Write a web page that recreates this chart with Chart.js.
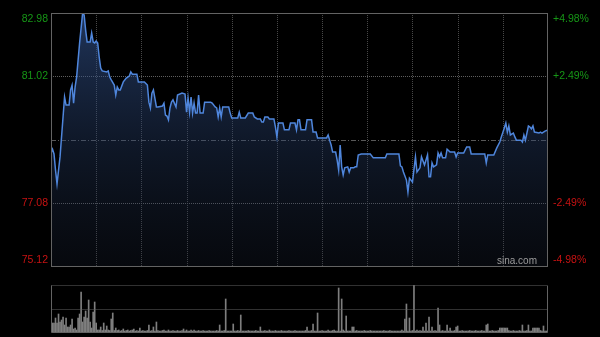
<!DOCTYPE html>
<html>
<head>
<meta charset="utf-8">
<script src="https://cdn.jsdelivr.net/npm/chart.js@4.4.1/dist/chart.umd.min.js"></script>
<style>
  html, body { margin: 0; padding: 0; background: #000; }
  #wrap { position: relative; width: 600px; height: 337px; overflow: hidden; background: #000; }
  canvas { position: absolute; left: 0; }
</style>
</head>
<body>
<div id="wrap">
  <canvas id="priceChart" width="600" height="275" style="top:0"></canvas>
  <canvas id="volChart" width="600" height="62" style="top:275px"></canvas>
</div>
<script>
// минуты торгового дня (0..330) и цены в точках излома линии
const priceMinutes = [
  0, 1, 2, 3, 4, 6, 8, 9, 10, 12, 13, 14, 15, 16, 17, 19, 21, 22, 23, 24,
  26, 27, 28, 29, 30, 31, 32, 33, 34, 37, 38, 39, 40, 42, 43, 44, 45, 46, 48, 50,
  52, 53, 54, 57, 58, 62, 64, 65, 66, 67, 68, 70, 71, 74, 75, 76, 77, 78, 79, 80,
  81, 83, 84, 87, 89, 90, 91, 92, 93, 94, 95, 96, 97, 98, 99, 101, 102, 106, 107, 109,
  110, 111, 112, 113, 114, 118, 119, 120, 124, 125, 126, 129, 131, 134, 135, 137, 139, 140, 141, 142,
  144, 145, 148, 149, 150, 151, 154, 155, 158, 159, 162, 163, 164, 165, 166, 169, 170, 173, 174, 176,
  177, 183, 184, 185, 186, 187, 189, 190, 191, 192, 193, 194, 195, 197, 198, 199, 201, 202, 203, 204,
  206, 212, 214, 222, 223, 231, 232, 233, 234, 236, 237, 238, 240, 242, 243, 245, 246, 248, 250, 251,
  252, 253, 254, 256, 257, 258, 259, 260, 262, 263, 265, 268, 269, 270, 274, 276, 278, 279, 281, 288,
  289, 290, 294, 296, 298, 299, 301, 302, 303, 304, 305, 307, 308, 309, 312, 313, 314, 315, 317, 318,
  319, 320, 321, 324, 325, 326, 328, 330
];
const prices = [
  78.63, 78.75, 78.60, 78.10, 77.67, 78.51, 79.75, 80.37, 80.12, 80.12, 80.59, 80.74, 80.18, 80.68, 80.99, 82.05, 82.98, 82.92, 82.45, 82.08,
  82.08, 82.36, 82.08, 82.05, 82.11, 82.05, 81.61, 81.27, 81.18, 81.15, 81.18, 80.99, 80.90, 80.74, 80.43, 80.68, 80.59, 80.59, 80.84, 80.96,
  81.02, 81.15, 81.08, 81.08, 80.84, 80.84, 80.74, 80.21, 80.03, 80.49, 80.59, 80.06, 80.06, 80.09, 80.18, 79.81, 79.78, 79.66, 80.03, 80.21,
  80.28, 80.06, 80.43, 80.49, 80.46, 79.90, 80.34, 79.90, 80.37, 79.87, 80.18, 79.87, 79.87, 80.43, 79.87, 79.87, 80.21, 80.21, 80.18, 80.06,
  80.03, 79.75, 80.03, 79.75, 80.06, 80.06, 79.87, 79.72, 79.72, 79.90, 79.72, 79.72, 79.87, 79.87, 79.75, 79.69, 79.69, 79.59, 79.59, 79.75,
  79.75, 79.69, 79.69, 79.44, 79.13, 79.56, 79.56, 79.35, 79.35, 79.56, 79.56, 79.35, 79.66, 79.66, 79.35, 79.35, 79.66, 79.66, 79.28, 79.28,
  79.10, 79.10, 79.19, 79.03, 78.88, 78.66, 78.66, 78.41, 78.10, 78.88, 78.20, 77.95, 78.17, 78.20, 78.04, 78.17, 78.17, 78.20, 78.20, 78.57,
  78.60, 78.60, 78.48, 78.48, 78.60, 78.60, 78.23, 78.20, 78.04, 77.79, 77.42, 77.85, 77.73, 78.51, 78.04, 78.17, 78.51, 78.26, 78.57, 77.89,
  77.89, 78.32, 78.20, 78.26, 78.63, 78.51, 78.63, 78.48, 78.48, 78.75, 78.66, 78.66, 78.51, 78.63, 78.63, 78.82, 78.82, 78.60, 78.60, 78.60,
  78.32, 78.57, 78.57, 78.79, 78.97, 79.13, 79.41, 79.56, 79.28, 79.47, 79.19, 79.25, 79.13, 79.03, 79.03, 78.97, 79.19, 79.03, 79.47, 79.44,
  79.38, 79.47, 79.28, 79.25, 79.28, 79.25, 79.31, 79.35
];

// объём по минутам (0..330)
const volumes = [
  260, 90, 90, 140, 90, 180, 100, 120, 150, 70,
  140, 50, 50, 70, 130, 30, 40, 20, 140, 180,
  400, 100, 150, 210, 140, 320, 100, 40, 200, 300,
  90, 20, 20, 50, 15, 90, 20, 60, 20, 15,
  130, 190, 15, 40, 15, 20, 10, 15, 30, 10,
  15, 20, 10, 15, 20, 30, 10, 15, 10, 40,
  10, 15, 10, 10, 15, 70, 10, 15, 50, 10,
  100, 15, 10, 10, 15, 20, 10, 10, 20, 10,
  10, 15, 10, 10, 15, 10, 10, 15, 30, 10,
  20, 10, 10, 20, 10, 20, 10, 10, 15, 10,
  10, 15, 10, 10, 10, 15, 10, 10, 10, 10,
  15, 10, 70, 10, 10, 15, 330, 10, 10, 10,
  10, 80, 10, 10, 15, 10, 170, 10, 10, 10,
  10, 15, 10, 10, 10, 10, 15, 10, 10, 50,
  10, 10, 15, 10, 10, 20, 10, 10, 10, 15,
  10, 10, 10, 15, 10, 10, 10, 10, 15, 10,
  10, 10, 15, 10, 10, 10, 10, 10, 10, 15,
  50, 10, 10, 15, 80, 10, 10, 190, 10, 10,
  15, 10, 10, 10, 20, 10, 10, 15, 20, 10,
  10, 440, 10, 330, 20, 10, 160, 10, 10, 10,
  50, 50, 10, 15, 10, 10, 10, 10, 15, 10,
  10, 10, 15, 10, 10, 10, 10, 10, 10, 10,
  10, 15, 10, 10, 10, 15, 10, 10, 10, 10,
  10, 10, 10, 20, 10, 130, 280, 10, 140, 10,
  15, 470, 10, 20, 10, 15, 10, 50, 10, 90,
  10, 150, 10, 50, 10, 15, 10, 240, 70, 10,
  15, 10, 10, 70, 10, 40, 10, 10, 15, 50,
  60, 10, 10, 15, 10, 10, 10, 10, 15, 10,
  10, 10, 15, 10, 10, 10, 15, 10, 10, 70,
  80, 10, 10, 15, 10, 10, 10, 15, 40, 40,
  40, 40, 40, 40, 15, 10, 10, 15, 10, 10,
  10, 15, 10, 70, 10, 10, 15, 70, 10, 10,
  40, 40, 40, 40, 40, 15, 10, 60, 10, 10,
  10
];

const prevClose = 79.05;
const priceMin = 75.12;
const priceMax = 82.98;
const priceTicks = [82.98, 81.02, 77.08, 75.12];
const pctTicks = ['+4.98%', '+2.49%', '-2.49%', '-4.98%'];
const timeGrid = [30, 60, 90, 120, 150, 180, 210, 240, 270, 300];
const volMax = 470;

const UP = '#169616';
const DOWN = '#c81212';
const FRAME = '#636363';

function hline(ctx, x1, x2, y) {
    ctx.beginPath();
    ctx.moveTo(x1, y);
    ctx.lineTo(x2, y);
    ctx.stroke();
}

function vline(ctx, x, y1, y2) {
    ctx.beginPath();
    ctx.moveTo(x, y1);
    ctx.lineTo(x, y2);
    ctx.stroke();
}

// сетка, рамка и подписи цены
const priceFrame = {
    id: 'priceFrame',
    beforeDatasetsDraw(chart) {
        const { ctx, chartArea: a, scales: { x, y } } = chart;
        ctx.save();
        ctx.lineWidth = 1;

        ctx.strokeStyle = '#484848';
        ctx.setLineDash([1, 1]);
        timeGrid.forEach(t => {
            const px = Math.round(x.getPixelForValue(t)) + 0.5;
            vline(ctx, px, a.top, a.bottom);
        });

        ctx.strokeStyle = '#5e5e5e';
        [priceTicks[1], priceTicks[2]].forEach(v => {
            hline(ctx, a.left, a.right, Math.round(y.getPixelForValue(v)) + 0.5);
        });

        // линия вчерашнего закрытия
        ctx.strokeStyle = '#585858';
        ctx.setLineDash([5, 2, 1, 2]);
        hline(ctx, a.left, a.right, Math.round(y.getPixelForValue(prevClose)) + 0.5);
        ctx.restore();
    },
    afterDraw(chart) {
        const { ctx, chartArea: a, scales: { y } } = chart;
        ctx.save();
        ctx.lineWidth = 1;
        ctx.strokeStyle = FRAME;
        ctx.strokeRect(Math.round(a.left) + 0.5, Math.round(a.top) + 0.5,
            Math.round(a.right - a.left) - 1, Math.round(a.bottom - a.top));

        ctx.font = '10.5px "Liberation Sans", Arial, sans-serif';
        ctx.textBaseline = 'middle';
        priceTicks.forEach((v, i) => {
            let py = y.getPixelForValue(v);
            if (i === 0) py += 6;
            if (i === priceTicks.length - 1) py -= 6;
            const color = v > prevClose ? UP : DOWN;
            ctx.fillStyle = color;
            ctx.textAlign = 'right';
            ctx.fillText(v.toFixed(2), a.left - 3, py);
            ctx.textAlign = 'left';
            ctx.fillText(pctTicks[i], a.right + 5, py);
        });

        ctx.fillStyle = '#9c9c9c';
        ctx.font = '10px "Liberation Sans", Arial, sans-serif';
        ctx.textAlign = 'right';
        ctx.fillText('sina.com', a.right - 11, a.bottom - 5);
        ctx.restore();
    }
};

const volFrame = {
    id: 'volFrame',
    afterDraw(chart) {
        const { ctx, chartArea: a, scales: { y } } = chart;
        ctx.save();
        ctx.lineWidth = 1;
        ctx.strokeStyle = FRAME;
        const left = Math.round(a.left) + 0.5;
        const right = Math.round(a.right) - 0.5;
        const top = Math.round(a.top) + 0.5;
        const bottom = Math.round(a.bottom) + 0.5;
        vline(ctx, left, top, bottom);
        vline(ctx, right, top, bottom);
        hline(ctx, left, right, bottom);
        ctx.setLineDash([1, 1]);
        hline(ctx, left, right, top);
        hline(ctx, left, right, Math.round(y.getPixelForValue(volMax / 2)) + 0.5);
        ctx.restore();
    }
};

const priceCtx = document.getElementById('priceChart');
new Chart(priceCtx, {
    type: 'line',
    data: {
        datasets: [{
            data: priceMinutes.map((m, i) => ({ x: m, y: prices[i] })),
            borderColor: '#4f86dc',
            borderWidth: 1.5,
            pointRadius: 0,
            tension: 0,
            fill: 'start',
            backgroundColor: function(context) {
                const area = context.chart.chartArea;
                if (!area) return 'rgba(30,50,90,0.4)';
                const g = context.chart.ctx.createLinearGradient(0, area.top, 0, area.bottom);
                g.addColorStop(0, 'rgba(58,96,165,0.55)');
                g.addColorStop(0.5, 'rgba(40,64,108,0.38)');
                g.addColorStop(1, 'rgba(30,40,62,0.22)');
                return g;
            }
        }]
    },
    options: {
        responsive: false,
        animation: false,
        devicePixelRatio: 1,
        layout: { padding: { left: 51, right: 52, top: 13, bottom: 9 } },
        plugins: { legend: { display: false }, tooltip: { enabled: false } },
        scales: {
            x: { type: 'linear', min: 0, max: 330, display: false },
            y: { min: priceMin, max: priceMax, display: false }
        }
    },
    plugins: [priceFrame]
});

const volCtx = document.getElementById('volChart');
new Chart(volCtx, {
    type: 'bar',
    data: {
        labels: volumes.map((v, i) => i),
        datasets: [{
            data: volumes,
            backgroundColor: '#7e7e7e',
            barThickness: 1
        }]
    },
    options: {
        responsive: false,
        animation: false,
        devicePixelRatio: 1,
        layout: { padding: { left: 51, right: 52, top: 10, bottom: 5 } },
        plugins: { legend: { display: false }, tooltip: { enabled: false } },
        scales: {
            x: { display: false, offset: false },
            y: { min: 0, max: volMax, display: false }
        }
    },
    plugins: [volFrame]
});
</script>
</body>
</html>
